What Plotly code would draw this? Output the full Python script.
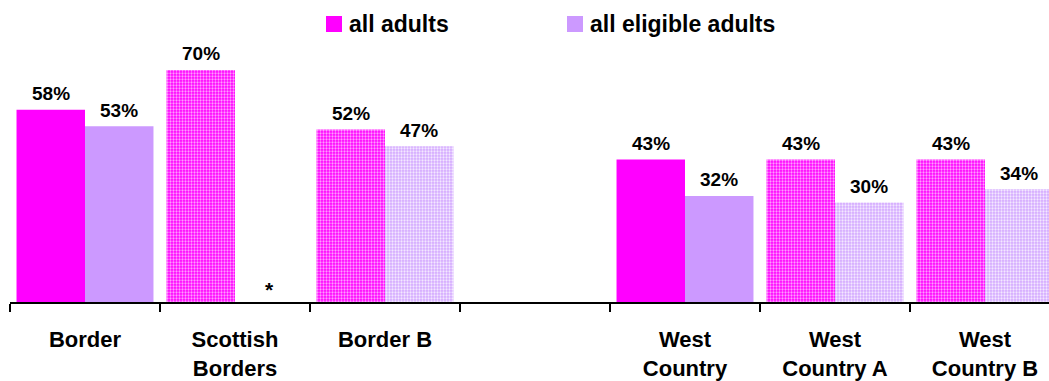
import plotly.graph_objects as go

# Survey groups (the blank entry is a spacer between the two regions)
categories = ["Border", "Scottish<br>Borders", "Border B", " ",
              "West<br>Country", "West<br>Country A", "West<br>Country B"]
all_adults = [58, 70, 52, None, 43, 43, 43]
all_eligible = [53, None, 47, None, 32, 30, 34]
# sub-areas drawn with a dotted fill
dotted = [False, True, True, False, False, True, True]

MAGENTA = "#ff00ff"
LILAC = "#cc99ff"
FONT = "Liberation Sans, Arial, sans-serif"


def split(values, want_dotted):
    return [v if d == want_dotted else None for v, d in zip(values, dotted)]


fig = go.Figure()
series_styles = [
    ("all adults", all_adults, "a", MAGENTA, MAGENTA, "#ff9cff"),
    ("all eligible adults", all_eligible, "b", LILAC, "#d4a9ff", "#f3e8ff"),
]
for name, values, group, solid, dot_bg, dot_fg in series_styles:
    fig.add_trace(go.Bar(
        x=categories, y=split(values, False), name=name, offsetgroup=group,
        marker=dict(color=solid, line=dict(width=0)), showlegend=False,
    ))
    fig.add_trace(go.Bar(
        x=categories, y=split(values, True), name=name, offsetgroup=group,
        marker=dict(color=dot_bg, line=dict(width=0),
                    pattern=dict(shape=".", fillmode="overlay", fgcolor=dot_fg,
                                 fgopacity=1, size=3, solidity=0.45)),
        showlegend=False,
    ))

# value labels above each bar ("*" where no figure is available)
annotations = []
for series, shift in ((all_adults, -34), (all_eligible, 34)):
    for cat, val in zip(categories, series):
        if cat.strip() == "":
            continue
        missing = val is None
        annotations.append(dict(
            x=cat, y=0 if missing else val, xref="x", yref="y",
            text="*" if missing else f"{val}%",
            showarrow=False, xshift=shift, yshift=13 if missing else 16,
            yanchor="middle",
            font=dict(family=FONT, size=21 if missing else 19, color="black",
                      weight="bold"),
        ))

# legend: coloured squares with bold captions, positioned in plot-area pixels
plot_w, plot_h, left = 1039, 302, 10
legend_items = [("all adults", MAGENTA, 326), ("all eligible adults", LILAC, 567)]
shapes = []
for label, color, x0 in legend_items:
    shapes.append(dict(type="rect", xref="paper", yref="paper",
                       x0=(x0 - left) / plot_w, x1=(x0 + 16 - left) / plot_w,
                       y0=1 - 32 / plot_h, y1=1 - 16 / plot_h,
                       fillcolor=color, line=dict(width=0), layer="above"))
    annotations.append(dict(
        x=(x0 + 21 - left) / plot_w, y=1 - 24 / plot_h, xref="paper", yref="paper",
        text=label, showarrow=False, xanchor="left", yanchor="middle",
        font=dict(family=FONT, size=23, color="black", weight="bold"),
    ))

fig.update_layout(
    width=1049, height=381,
    margin=dict(l=left, r=0, t=0, b=79, autoexpand=False),
    paper_bgcolor="white", plot_bgcolor="white",
    barmode="group", bargap=0.087, bargroupgap=0,
    shapes=shapes, annotations=annotations,
    xaxis=dict(
        type="category", categoryorder="array", categoryarray=categories,
        range=[-0.5, -0.5 + plot_w / 150],
        showline=True, linecolor="black", linewidth=2,
        ticks="outside", tickson="boundaries", ticklen=8, tickwidth=1.5,
        tickcolor="black", showgrid=False, zeroline=False,
        tickfont=dict(family=FONT, size=22, color="black", weight="bold"),
        ticklabelstandoff=17, automargin=False,
    ),
    yaxis=dict(range=[0, 91.1], visible=False, fixedrange=True),
)

fig.write_html("out.html")
